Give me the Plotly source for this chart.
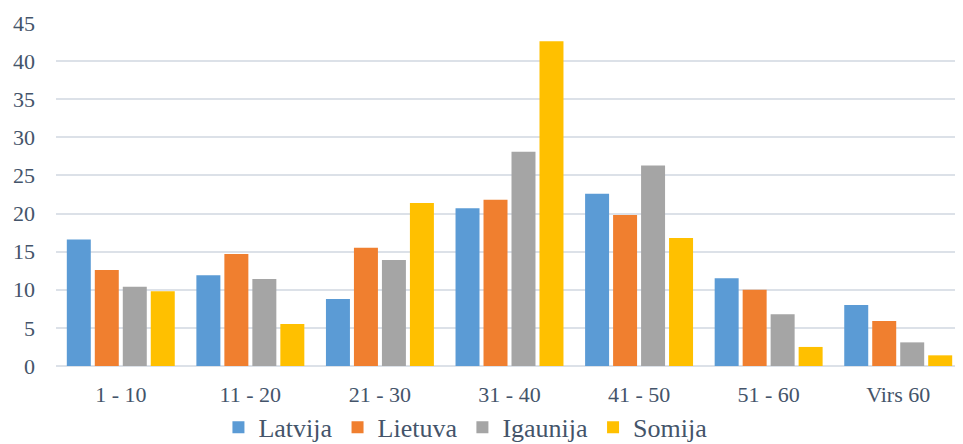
import plotly.graph_objects as go

categories = ["1 - 10", "11 - 20", "21 - 30", "31 - 40", "41 - 50", "51 - 60", "Virs 60"]
latvija = [16.6, 11.9, 8.8, 20.7, 22.6, 11.5, 8.0]
lietuva = [12.6, 14.7, 15.5, 21.8, 19.8, 10.0, 5.9]
igaunija = [10.4, 11.4, 13.9, 28.1, 26.3, 6.8, 3.1]
somija = [9.8, 5.5, 21.4, 42.6, 16.8, 2.5, 1.4]
series_names = ["Latvija", "Lietuva", "Igaunija", "Somija"]
colors = ["#5B9BD5", "#F07F2F", "#A5A5A5", "#FFC000"]

fig = go.Figure()
for name, vals, col in zip(series_names, [latvija, lietuva, igaunija, somija], colors):
    fig.add_trace(go.Bar(x=categories, y=vals, name=name, marker=dict(color=col, line=dict(width=0))))

font_family = "Liberation Serif"
text_color = "#44546A"

fig.update_layout(
    width=955, height=436,
    margin=dict(l=48, r=0, t=15, b=78, autoexpand=False),
    paper_bgcolor="white", plot_bgcolor="white",
    barmode="group", bargap=0.136, bargroupgap=0.143,
    font=dict(family=font_family, color=text_color, size=22),
    showlegend=True,
    legend=dict(orientation="h", xref="container", yref="container",
                x=0.479, xanchor="center", y=0.038, yanchor="middle",
                font=dict(family=font_family, size=26, color=text_color),
                itemwidth=30, tracegroupgap=0, entrywidth=0),
    xaxis=dict(showgrid=False, showline=False, zeroline=False, ticks="",
               tickangle=0, automargin=False,
               tickfont=dict(family=font_family, size=22, color=text_color), ticklabelstandoff=13),
    yaxis=dict(range=[0, 45], dtick=5, showgrid=True, gridcolor="#DCE1E8", gridwidth=1.5,
               zeroline=True, zerolinecolor="#DCE1E8", zerolinewidth=1.5,
               automargin=False,
               showline=False, ticks="", tickfont=dict(family=font_family, size=22, color=text_color),
               ticklabelstandoff=20),
)

fig.write_html("out.html")
